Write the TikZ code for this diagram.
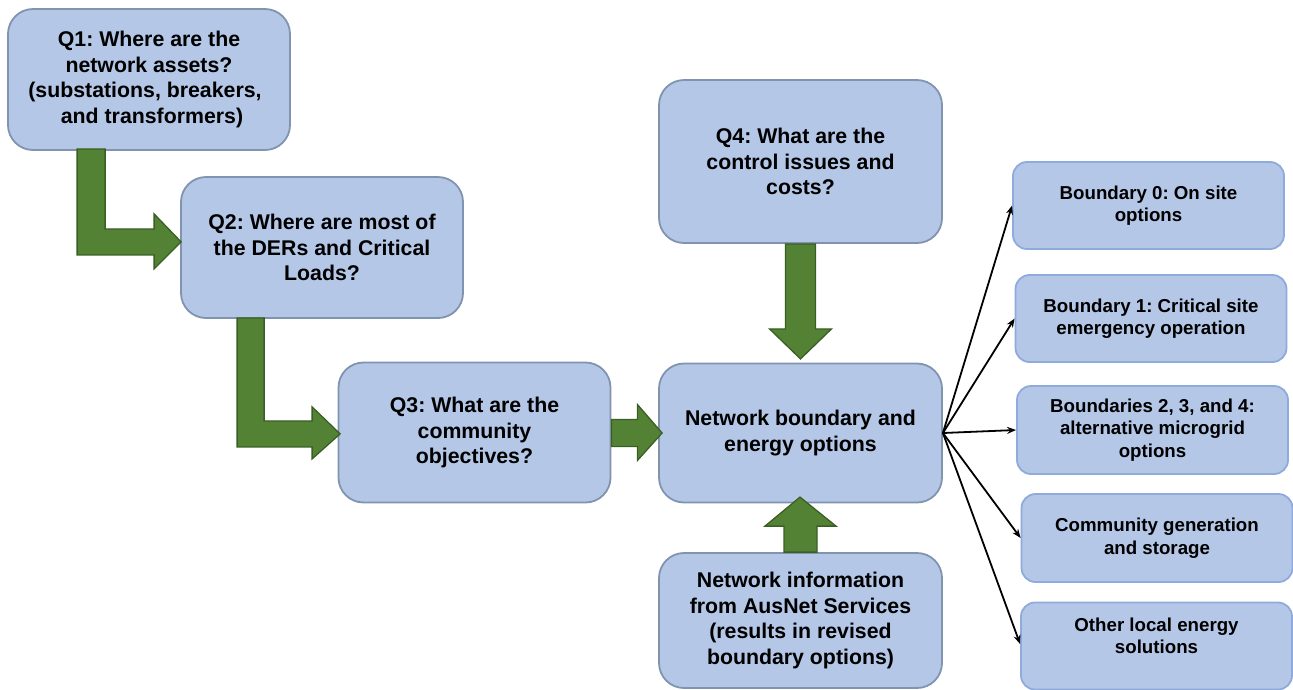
\documentclass[tikz,border=0pt]{standalone}
\usepackage{fontspec}
\setmainfont{Liberation Sans}
\usetikzlibrary{arrows.meta,calc}
\frenchspacing
\definecolor{boxfill}{RGB}{180,199,231}
\definecolor{boxline}{RGB}{128,148,176}
\definecolor{rline}{RGB}{143,170,220}
\definecolor{gfill}{RGB}{84,130,53}
\definecolor{gline}{RGB}{58,95,36}
\tikzset{
  mainbox/.style={draw=boxline, fill=boxfill, line width=1.8pt, rounded corners=25pt,
    align=center, font=\frenchspacing\bfseries\fontsize{21.3}{25.7}\selectfont, inner sep=0pt},
  rbox/.style={draw=rline, fill=boxfill, line width=1.8pt, rounded corners=14pt,
    align=center, font=\frenchspacing\bfseries\fontsize{18.7}{22.4}\selectfont, inner sep=0pt,
    minimum width=271pt, minimum height=87pt},
  rtext/.style={align=center, font=\frenchspacing\bfseries\fontsize{18.7}{22.4}\selectfont, inner sep=0pt},
  garrow/.style={draw=gline, fill=gfill, line width=1.3pt, line join=miter},
  barrow/.style={draw=black, line width=1.8pt, -{Stealth[length=9pt,width=7pt]}}
}
\begin{document}
\begin{tikzpicture}[x=1pt,y=-1pt]
\useasboundingbox (0,0) rectangle (1293,689);
% main boxes
\node[mainbox, minimum width=282pt, minimum height=141pt] (q1) at (149,79.5)
  {Q1: Where are the\\network assets?\\\hspace*{-8pt}(substations, breakers,\\\hspace*{6pt}and transformers)};
\node[mainbox, minimum width=282pt, minimum height=141pt] (q2) at (322,247.5)
  {Q2: Where are most of\\the DERs and Critical\\Loads?};
\node[mainbox, minimum width=272pt, minimum height=140pt] (q3) at (474.5,432.5)
  {Q3: What are the\\community\\objectives?};
\node[mainbox, minimum width=283pt, minimum height=139pt] (net) at (800.5,433)
  {Network boundary and\\energy options};
\node[mainbox, minimum width=283pt, minimum height=163pt] (q4) at (800.5,161.5)
  {Q4: What are the\\control issues and\\costs?};
\node[mainbox, minimum width=283pt, minimum height=135pt] (info) at (800.5,620.5)
  {Network information\\from AusNet Services\\(results in revised\\boundary options)};
% right boxes
\node[rbox] (b0) at (1148.5,205.5) {Boundary 0: On site\\options};
\node[rbox] (b1) at (1151,318.5) {Boundary 1: Critical site\\emergency operation};
\node[rbox, minimum height=88pt] (b23) at (1152.5,430) {Boundaries 2, 3, and 4:\\alternative microgrid\\options};
\node[rbox, minimum height=88pt] (cg) at (1157,538) {Community generation\\and storage};
\node[rbox] (oth) at (1156.5,646) {};
\node[rtext] (othtext) at ($(oth.center)+(0,-10)$) {Other local energy\\solutions};
% green block arrows
\draw[garrow] ($(q1.south west)+(70,-2)$) -- ++(28,0) -- ++(0,80) -- ++(49,0) -- ++(0,-15)
  -- ++(27,28) -- ++(-27,27) -- ++(0,-14) -- ++(-77,0) -- cycle;
\draw[garrow] ($(q2.south west)+(57,-1)$) -- ++(27,0) -- ++(0,103) -- ++(48,0) -- ++(0,-14)
  -- ++(28,27) -- ++(-28,25) -- ++(0,-12) -- ++(-75,0) -- cycle;
\draw[garrow] ($(q3.east)+(0,-13)$) -- ++(26,0) -- ++(0,-15) -- ($(net.west)+(4,0)$)
  -- ($(q3.east)+(26,28)$) -- ++(0,-14) -- ++(-26,0) -- cycle;
\draw[garrow] ($(q4.south)+(-15,0)$) -- ++(30,0) -- ++(0,85) -- ++(16,0) -- ++(-31,30)
  -- ++(-31,-30) -- ++(16,0) -- cycle;
\draw[garrow] ($(info.north)+(-16.5,0)$) -- ++(33,0) -- ++(0,-26) -- ++(19,0) -- ++(-36,-29)
  -- ++(-35,29) -- ++(19,0) -- cycle;
% black connectors
\draw[barrow] (net.east) -- (b0.west);
\draw[barrow] (net.east) -- (b1.west);
\draw[barrow] (net.east) -- (b23.west);
\draw[barrow] (net.east) -- (cg.west);
\draw[barrow] (net.east) -- ($(oth.west)+(0,-2)$);
\end{tikzpicture}
\end{document}
